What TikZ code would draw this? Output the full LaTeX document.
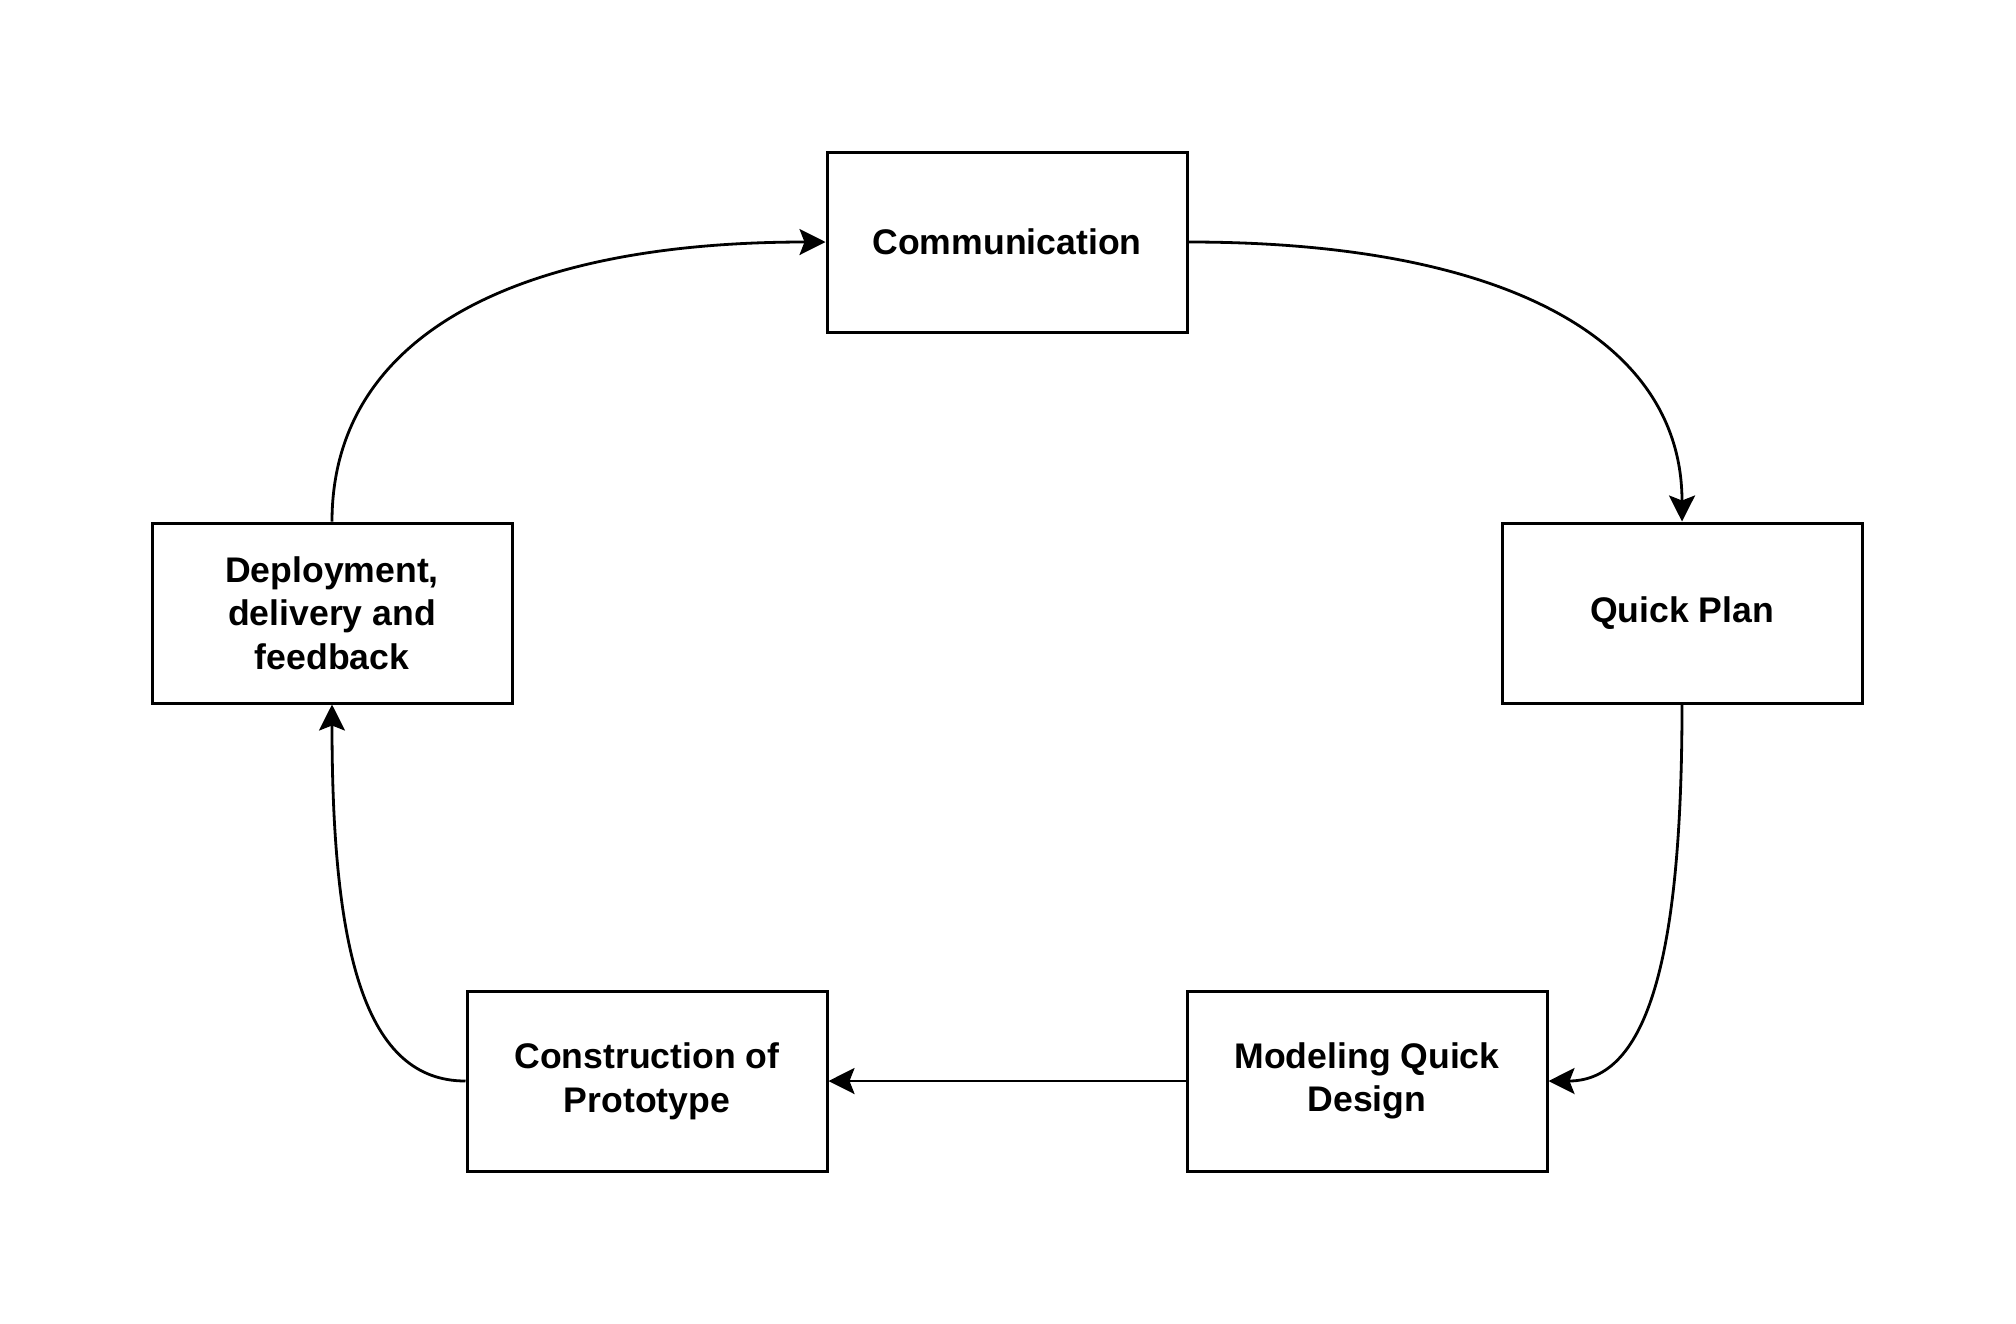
\documentclass[tikz,border=0pt]{standalone}
\usepackage{fontspec}
\setmainfont{Liberation Sans}
\usetikzlibrary{arrows.meta}
\begin{document}
\begin{tikzpicture}[x=0.5pt,y=-0.5pt,
  stage/.style={draw=black, line width=1.5pt, minimum width=180pt, minimum height=90pt,
    inner sep=0pt, align=center, font=\fontsize{17.8pt}{21.8pt}\selectfont\bfseries},
  link/.style={line width=1.4pt, -{Stealth[length=13pt,width=13pt,inset=2.5pt]}}]
\useasboundingbox[fill=white] (0,0) rectangle (2016,1323);
\node[stage] (com) at (1007,242) {Communication};
\node[stage] (qp) at (1682,613) {Quick Plan};
\node[stage] (ddf) at (332,613) {Deployment,\\delivery and\\feedback};
\node[stage] (cp) at (647,1081) {\raisebox{0pt}[\height][\depth]{Construction of}\\Prototype};
\node[stage] (mqd) at (1367,1081) {Modeling Quick\\Design};
\draw[link] (com.east) .. controls +(320,0) and +(0,-180) .. (qp.north);
\draw[link] (qp.south) .. controls +(0,250) and +(100,0) .. (mqd.east);
\draw[link] (mqd.west) -- (cp.east);
\draw[link] (cp.west) .. controls +(-100,0) and +(0,250) .. (ddf.south);
\draw[link] (ddf.north) .. controls +(0,-180) and +(-320,0) .. (com.west);
\end{tikzpicture}
\end{document}
